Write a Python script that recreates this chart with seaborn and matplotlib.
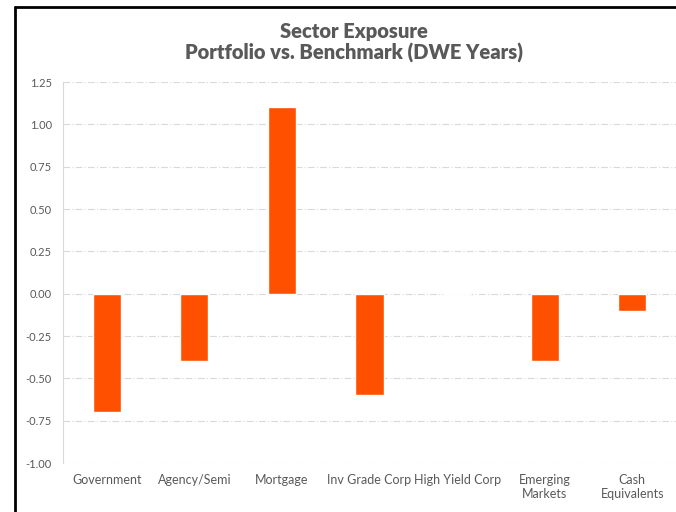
import matplotlib
matplotlib.use("Agg")
import matplotlib.pyplot as plt
import matplotlib.lines as mlines
from matplotlib.ticker import FormatStrFormatter, MultipleLocator
import seaborn as sns
import pandas as pd

sectors = ["Government", "Agency/Semi", "Mortgage", "Inv Grade Corp",
           "High Yield Corp", "Emerging\nMarkets", "Cash\nEquivalents"]
exposure = [-0.70, -0.40, 1.10, -0.60, 0.00, -0.40, -0.10]

df = pd.DataFrame({"Sector": sectors, "Exposure": exposure})

sns.set_theme(style="white")
plt.rcParams["font.family"] = ["Lato", "DejaVu Sans"]
plt.rcParams["axes.unicode_minus"] = False

text_grey = "#595959"

fig = plt.figure(figsize=(6.76, 5.12), dpi=100)
ax = fig.add_axes([0.0932, 0.0957, 0.9068, 0.7441])

sns.barplot(data=df, x="Sector", y="Exposure", color="#FF5000",
            width=0.32, saturation=1, ax=ax, zorder=3)

ax.set_ylim(-1.0, 1.25)
ax.yaxis.set_major_locator(MultipleLocator(0.25))
ax.yaxis.set_major_formatter(FormatStrFormatter("%.2f"))
ax.grid(axis="y", color="#D9D9D9", linestyle=(0, (6, 2, 1, 2)), linewidth=0.8, zorder=0)
ax.set_axisbelow(True)

for side in ["top", "right", "bottom"]:
    ax.spines[side].set_visible(False)
ax.spines["left"].set_color("#D9D9D9")
ax.spines["left"].set_linewidth(0.8)

ax.set_xlabel("")
ax.set_ylabel("")
ax.tick_params(axis="x", length=0, labelsize=9, colors=text_grey, pad=8)
ax.tick_params(axis="y", length=0, labelsize=8, colors=text_grey, pad=8)

fig.text(0.524, 0.917, "Sector Exposure\nPortfolio vs. Benchmark (DWE Years)",
         ha="center", va="center", fontsize=14.5, fontweight="heavy",
         color=text_grey, linespacing=1.1)

# frame drawn on left and top edges
fig.add_artist(mlines.Line2D([15 / 676, 15 / 676], [0, 1 - 7 / 512],
                             transform=fig.transFigure, color="black", linewidth=2))
fig.add_artist(mlines.Line2D([15 / 676, 1], [1 - 7 / 512, 1 - 7 / 512],
                             transform=fig.transFigure, color="black", linewidth=2))

fig.savefig("out.png", dpi=100)
